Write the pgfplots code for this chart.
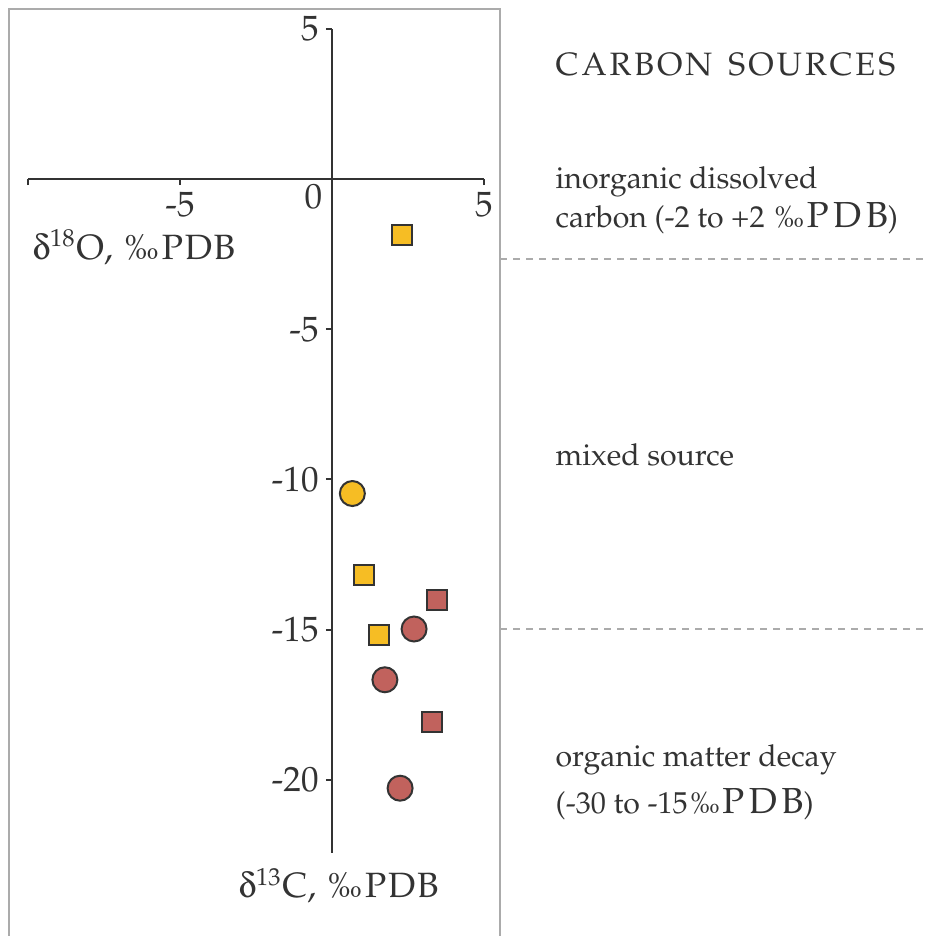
\documentclass[border=0pt]{standalone}
\usepackage[T1]{fontenc}
\usepackage{mathpazo}
\usepackage{textcomp}
\usepackage[Symbol]{upgreek}
\usepackage{pgfplots}
\pgfplotsset{compat=1.18}
\definecolor{txt}{HTML}{333333}
\definecolor{yel}{HTML}{F6BD24}
\definecolor{red}{HTML}{C1625D}
\definecolor{frm}{HTML}{ABABAB}
\newcommand{\pdb}[2]{\textperthousand{\fontsize{#1}{12}\selectfont P\kern#2 D\kern#2 B}}
\begin{document}
\begin{tikzpicture}[x=0.1mm,y=0.1mm]
\useasboundingbox (0,0) rectangle (929,936);
\draw[frm, line width=0.2mm] (9,-20) -- (9,927) -- (500,927) -- (500,-20);
\begin{axis}[
  at={(33.2mm,75.7mm)}, anchor=origin,
  scale only axis, width=45.6mm, height=82.4mm,
  xmin=-10, xmax=5, ymin=-22.43, ymax=5,
  axis lines=middle,
  axis line style={-, draw=txt, line width=0.2mm},
  xtick={-10,-5,5}, xticklabels={,-5,5},
  ytick={-20,-15,-10,-5,5}, yticklabels={-20,-15,-10,-5,5},
  tick align=outside, major tick length=0.6mm,
  tick style={draw=txt, line width=0.2mm},
  ticklabel style={font=\fontsize{10}{12}\selectfont, text=txt},
  xticklabel style={inner sep=0pt, yshift=-0.65mm},
  yticklabel style={xshift=0.5mm},
  clip=false,
]
\addplot[dashed, dash pattern=on 0.7mm off 0.6mm, draw=frm, line width=0.2mm] coordinates {(5.53,-2.67) (19.7,-2.67)};
\addplot[dashed, dash pattern=on 0.7mm off 0.6mm, draw=frm, line width=0.2mm] coordinates {(5.53,-14.97) (19.7,-14.97)};
\addplot[only marks, mark=square*, mark size=1mm, mark options={fill=yel, draw=txt, line width=0.2mm}] coordinates {(2.31,-1.86) (1.06,-13.17) (1.55,-15.17)};
\addplot[only marks, mark=*, mark size=1.25mm, mark options={fill=yel, draw=txt, line width=0.2mm}] coordinates {(0.67,-10.47)};
\addplot[only marks, mark=square*, mark size=1mm, mark options={fill=red, draw=txt, line width=0.2mm}] coordinates {(3.44,-14.0) (3.30,-18.09)};
\addplot[only marks, mark=*, mark size=1.25mm, mark options={fill=red, draw=txt, line width=0.2mm}] coordinates {(2.70,-14.98) (1.74,-16.67) (2.24,-20.28)};
\end{axis}
\begin{scope}[every node/.style={inner sep=0pt, text=txt, font=\fontsize{8.6}{10}\selectfont}]
\node[anchor=base east, font=\fontsize{10}{12}\selectfont] at (323,728) {0};
\node[anchor=base west, font=\fontsize{9.2}{11}\selectfont] at (555,861) {C\kern0.85pt A\kern0.85pt R\kern0.85pt B\kern0.85pt O\kern0.85pt N\hspace{0.5em}S\kern0.85pt O\kern0.85pt U\kern0.85pt R\kern0.85pt C\kern0.85pt E\kern0.85pt S};
\node[anchor=base west] at (555,748) {inorganic dissolved};
\node[anchor=base west] at (555,709) {carbon (-2 to +2 \pdb{10.3}{1.3pt})};
\node[anchor=base west] at (555,471) {mixed source};
\node[anchor=base west] at (555,169) {organic matter decay};
\node[anchor=base west] at (555,123) {(-30 to -15\pdb{10.3}{1.3pt})};
\node[anchor=base west, font=\fontsize{10}{12}\selectfont] at (32,677) {$\updelta$\textsuperscript{\scriptsize 18}O, \pdb{10}{0.5pt}};
\node[anchor=base west, font=\fontsize{10}{12}\selectfont] at (238,38) {$\updelta$\textsuperscript{\scriptsize 13}C, \pdb{10}{0.5pt}};
\end{scope}
\end{tikzpicture}
\end{document}
